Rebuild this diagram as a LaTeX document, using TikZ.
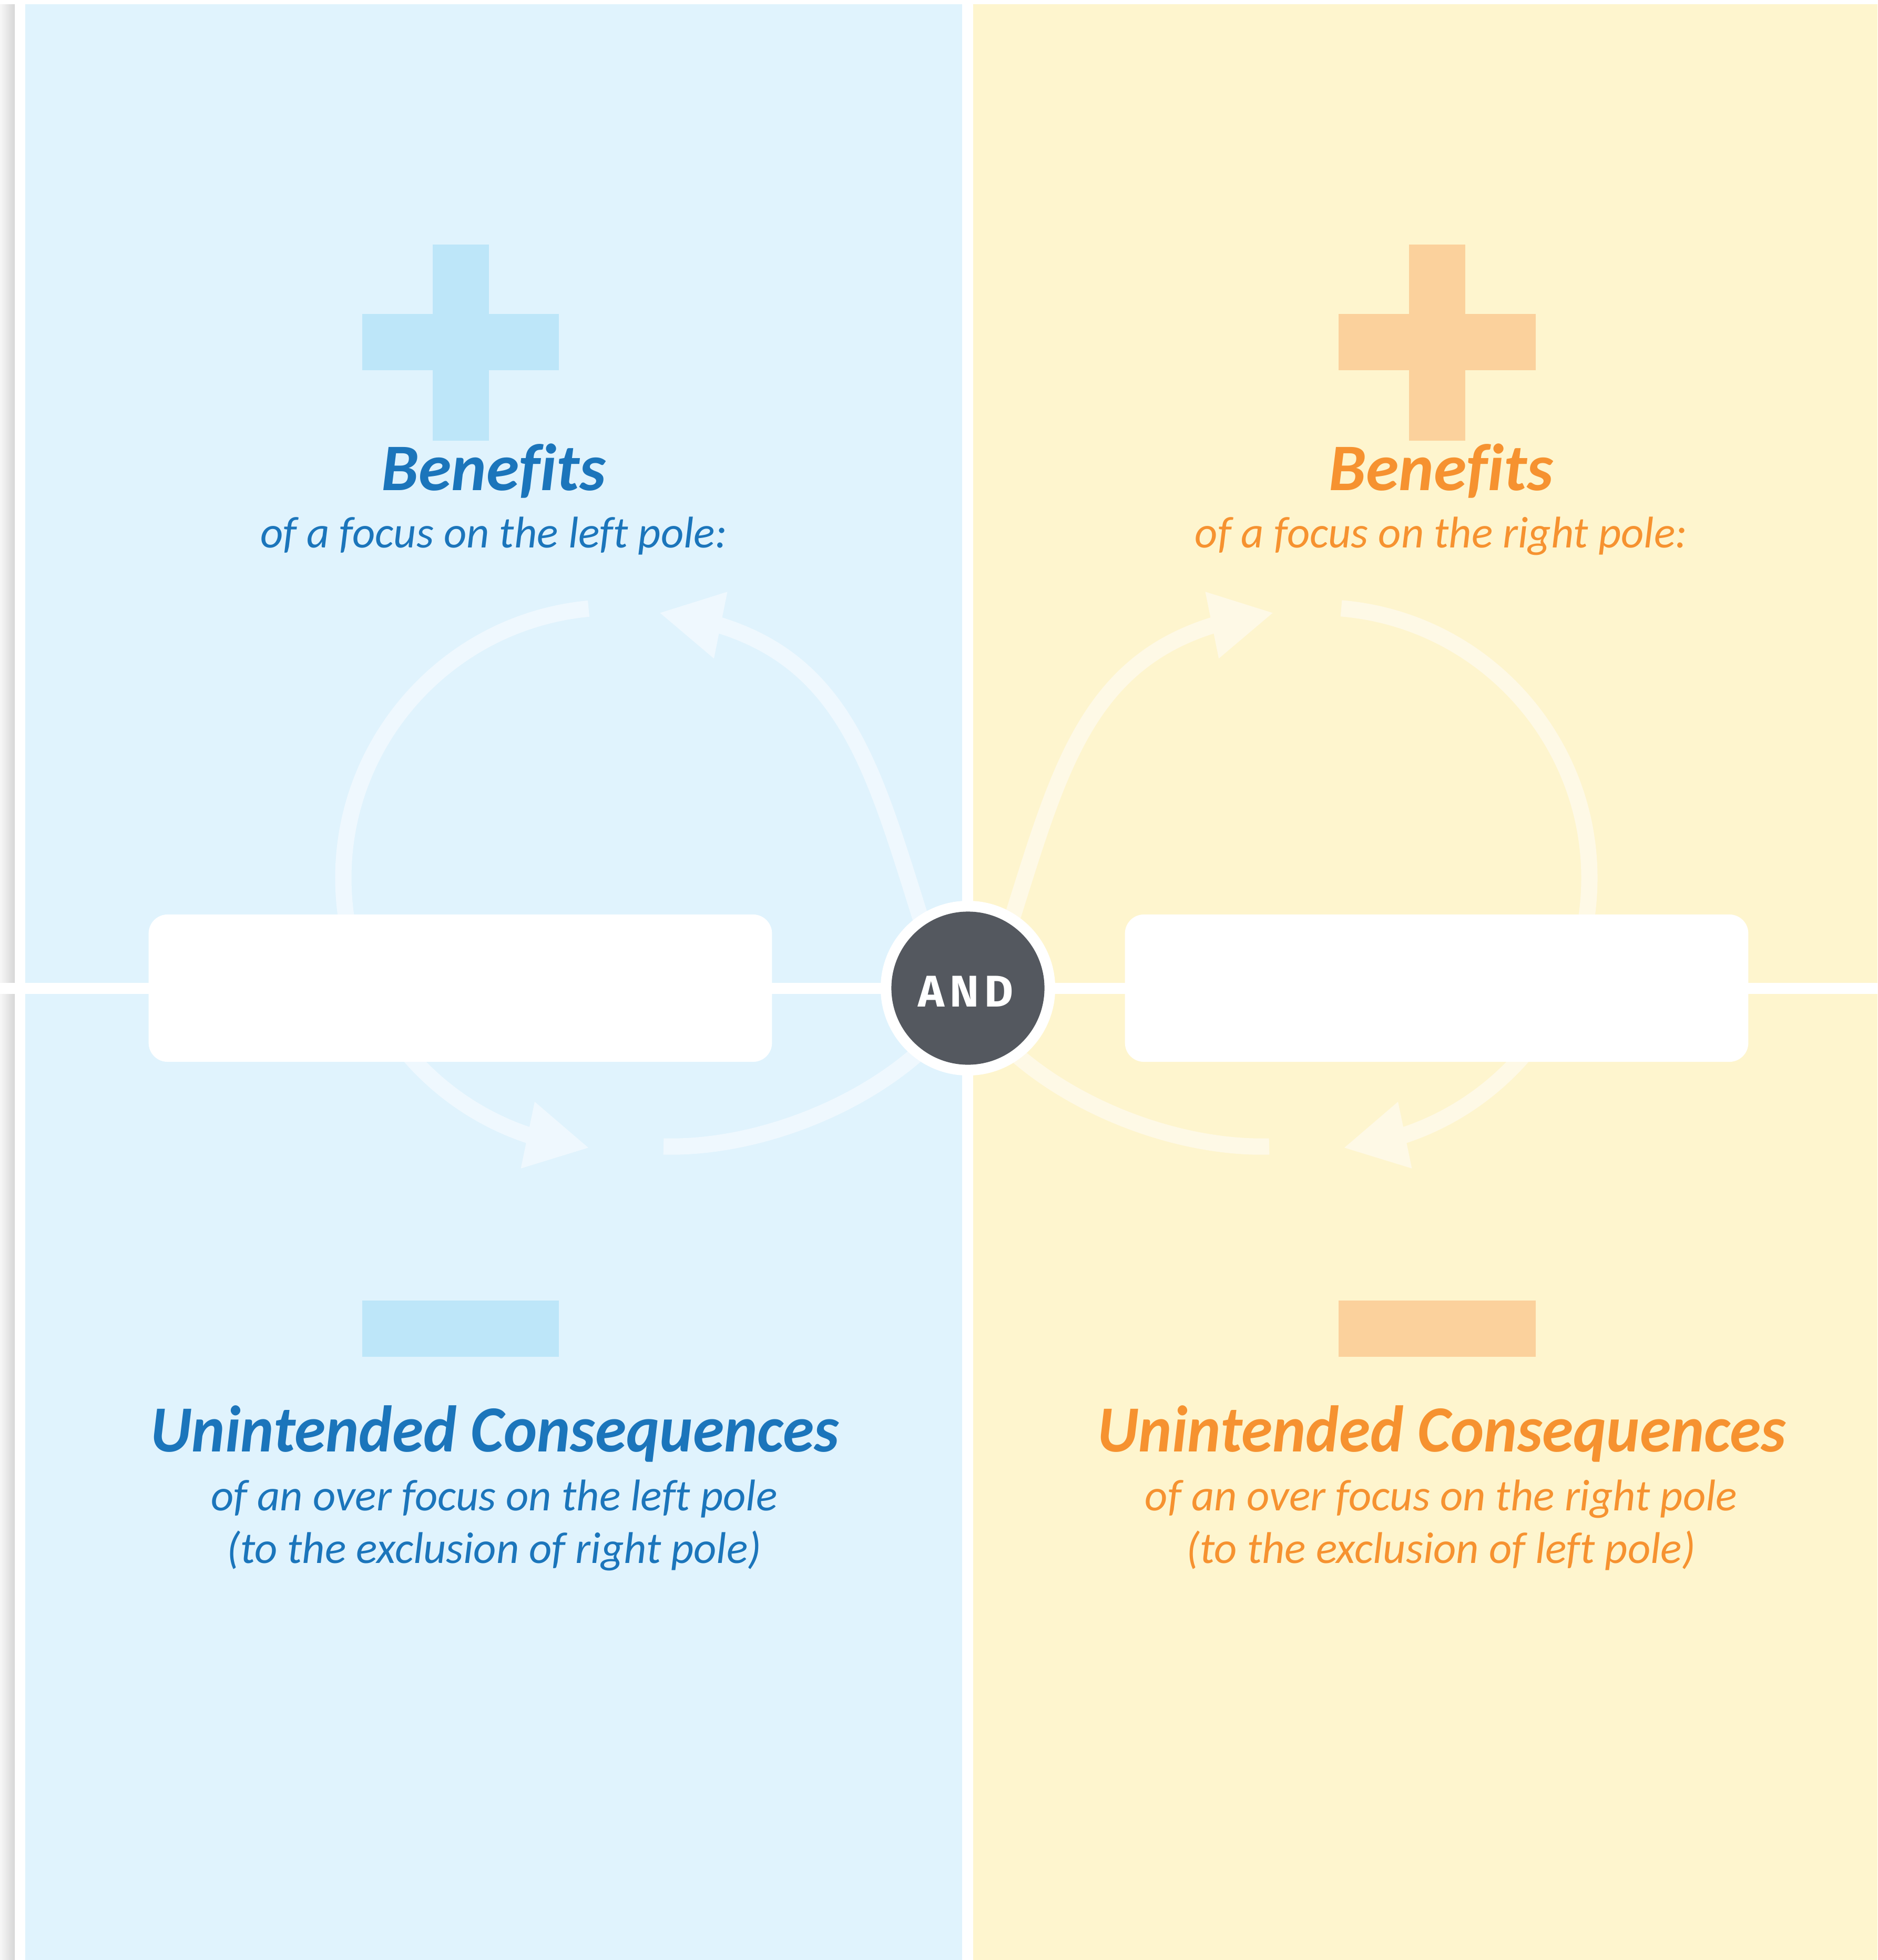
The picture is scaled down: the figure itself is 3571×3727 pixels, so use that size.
\documentclass[tikz,border=0pt]{standalone}
\usepackage{fontspec}
\setmainfont{Carlito}[Ligatures=NoCommon]
\newfontfamily\andfont[LetterSpace=12]{Fira Sans}
\newfontfamily\headfont[Ligatures=NoCommon,FakeStretch=0.96]{Carlito}
\usetikzlibrary{arrows.meta,bending}
\definecolor{bluebg}{RGB}{224,243,253}
\definecolor{yellowbg}{RGB}{254,245,206}
\definecolor{bluearrow}{RGB}{239,248,254}
\definecolor{yellowarrow}{RGB}{254,249,230}
\definecolor{blueplus}{RGB}{189,230,249}
\definecolor{orangeplus}{RGB}{251,209,156}
\definecolor{bluetext}{RGB}{27,117,187}
\definecolor{orangetext}{RGB}{246,146,48}
\definecolor{anddark}{RGB}{84,88,95}
\begin{document}
\begin{tikzpicture}[x=0.01cm,y=-0.01cm,
  flowline/.style={line width=0.31cm},
  tipped/.style={flowline,-{Triangle[length=1.2cm,width=1.2cm]}},
  headtext/.style={font=\fontsize{36}{42}\selectfont\bfseries\itshape, anchor=base, inner sep=0pt},
  conhead/.style={font=\headfont\fontsize{35.6}{42}\selectfont\bfseries\itshape, anchor=base, inner sep=0pt},
  subtext/.style={font=\fontsize{24}{28}\selectfont\itshape, anchor=base, inner sep=0pt},
  polebox/.style={fill=white, rounded corners=0.36cm, minimum width=11.85cm, minimum height=2.8cm, inner sep=0pt},
]
\useasboundingbox (0,0) rectangle (3571,3727);
\fill[white] (0,0) rectangle (3571,3727);
% page edge shadow
\shade[left color=black!3, right color=black!16] (0,9) rectangle (28,3727);
% panels
\fill[bluebg] (48,8) rectangle (1830,3727);
\fill[yellowbg] (1851,8) rectangle (3571,3727);
% plus signs
\fill[blueplus] (823,465) rectangle (930,838);
\fill[blueplus] (689,597) rectangle (1063,704);
\fill[orangeplus] (2680,465) rectangle (2787,838);
\fill[orangeplus] (2546,597) rectangle (2921,704);
% minus signs
\fill[blueplus] (689,2473) rectangle (1063,2580);
\fill[orangeplus] (2546,2473) rectangle (2921,2580);
% loop coordinates
\coordinate (cL) at (1168,1670);
\coordinate (cR) at (2508,1670);
\coordinate (ulS) at (1765,1790);
\coordinate (ulE) at (1253,1165);
\coordinate (llS) at (1262,2180);
\coordinate (llE) at (1785,1965);
\coordinate (urS) at (1911,1790);
\coordinate (urE) at (2423,1165);
\coordinate (lrS) at (2414,2180);
\coordinate (lrE) at (1891,1965);
% left loop
\draw[tipped, bluearrow] (cL) ++(264.6:515) arc[start angle=264.6, end angle=95.2, radius=515];
\draw[tipped, bluearrow] (ulS) .. controls (1655,1447) and (1609,1208) .. (ulE);
\draw[flowline, bluearrow] (llS) .. controls (1440,2185) and (1660,2100) .. (llE);
% right loop
\draw[tipped, yellowarrow] (cR) ++(-85.2:515) arc[start angle=-85.2, end angle=84.8, radius=515];
\draw[tipped, yellowarrow] (urS) .. controls (2021,1447) and (2067,1208) .. (urE);
\draw[flowline, yellowarrow] (lrS) .. controls (2236,2185) and (2016,2100) .. (lrE);
% horizontal divider
\fill[white] (0,1869) rectangle (3571,1890);
% pole boxes
\node[polebox] (leftpole) at (875.5,1879) {};
\node[polebox] (rightpole) at (2732.5,1879) {};
% AND circle
\node[circle, fill=white, minimum size=3.32cm, inner sep=0pt] (andring) at (1841,1879) {};
\node[circle, fill=anddark, minimum size=2.91cm, inner sep=0pt] (andcircle) at (1841,1879) {};
\node[anchor=base, inner sep=0pt, text=white, font=\andfont\bfseries\fontsize{24}{28}\selectfont] (andtext) at (1837,1914) {AND};
% texts left
\node[headtext, text=bluetext] (benL) at (939,932) {Benefits};
\node[subtext, text=bluetext] (benLsub) at (939,1041) {of a focus on the left pole:};
\node[conhead, text=bluetext] (conL) at (941,2760) {Unintended Consequences};
\node[subtext, text=bluetext] (conLsub1) at (940,2872) {of an over focus on the left pole};
\node[subtext, text=bluetext] (conLsub2) at (940,2972) {(to the exclusion of right pole)};
% texts right
\node[headtext, text=orangetext] (benR) at (2741,932) {Benefits};
\node[subtext, text=orangetext] (benRsub) at (2741,1041) {of a focus on the right pole:};
\node[conhead, text=orangetext] (conR) at (2742,2760) {Unintended Consequences};
\node[subtext, text=orangetext] (conRsub1) at (2741,2872) {of an over focus on the right pole};
\node[subtext, text=orangetext] (conRsub2) at (2741,2972) {(to the exclusion of left pole)};
\end{tikzpicture}
\end{document}
